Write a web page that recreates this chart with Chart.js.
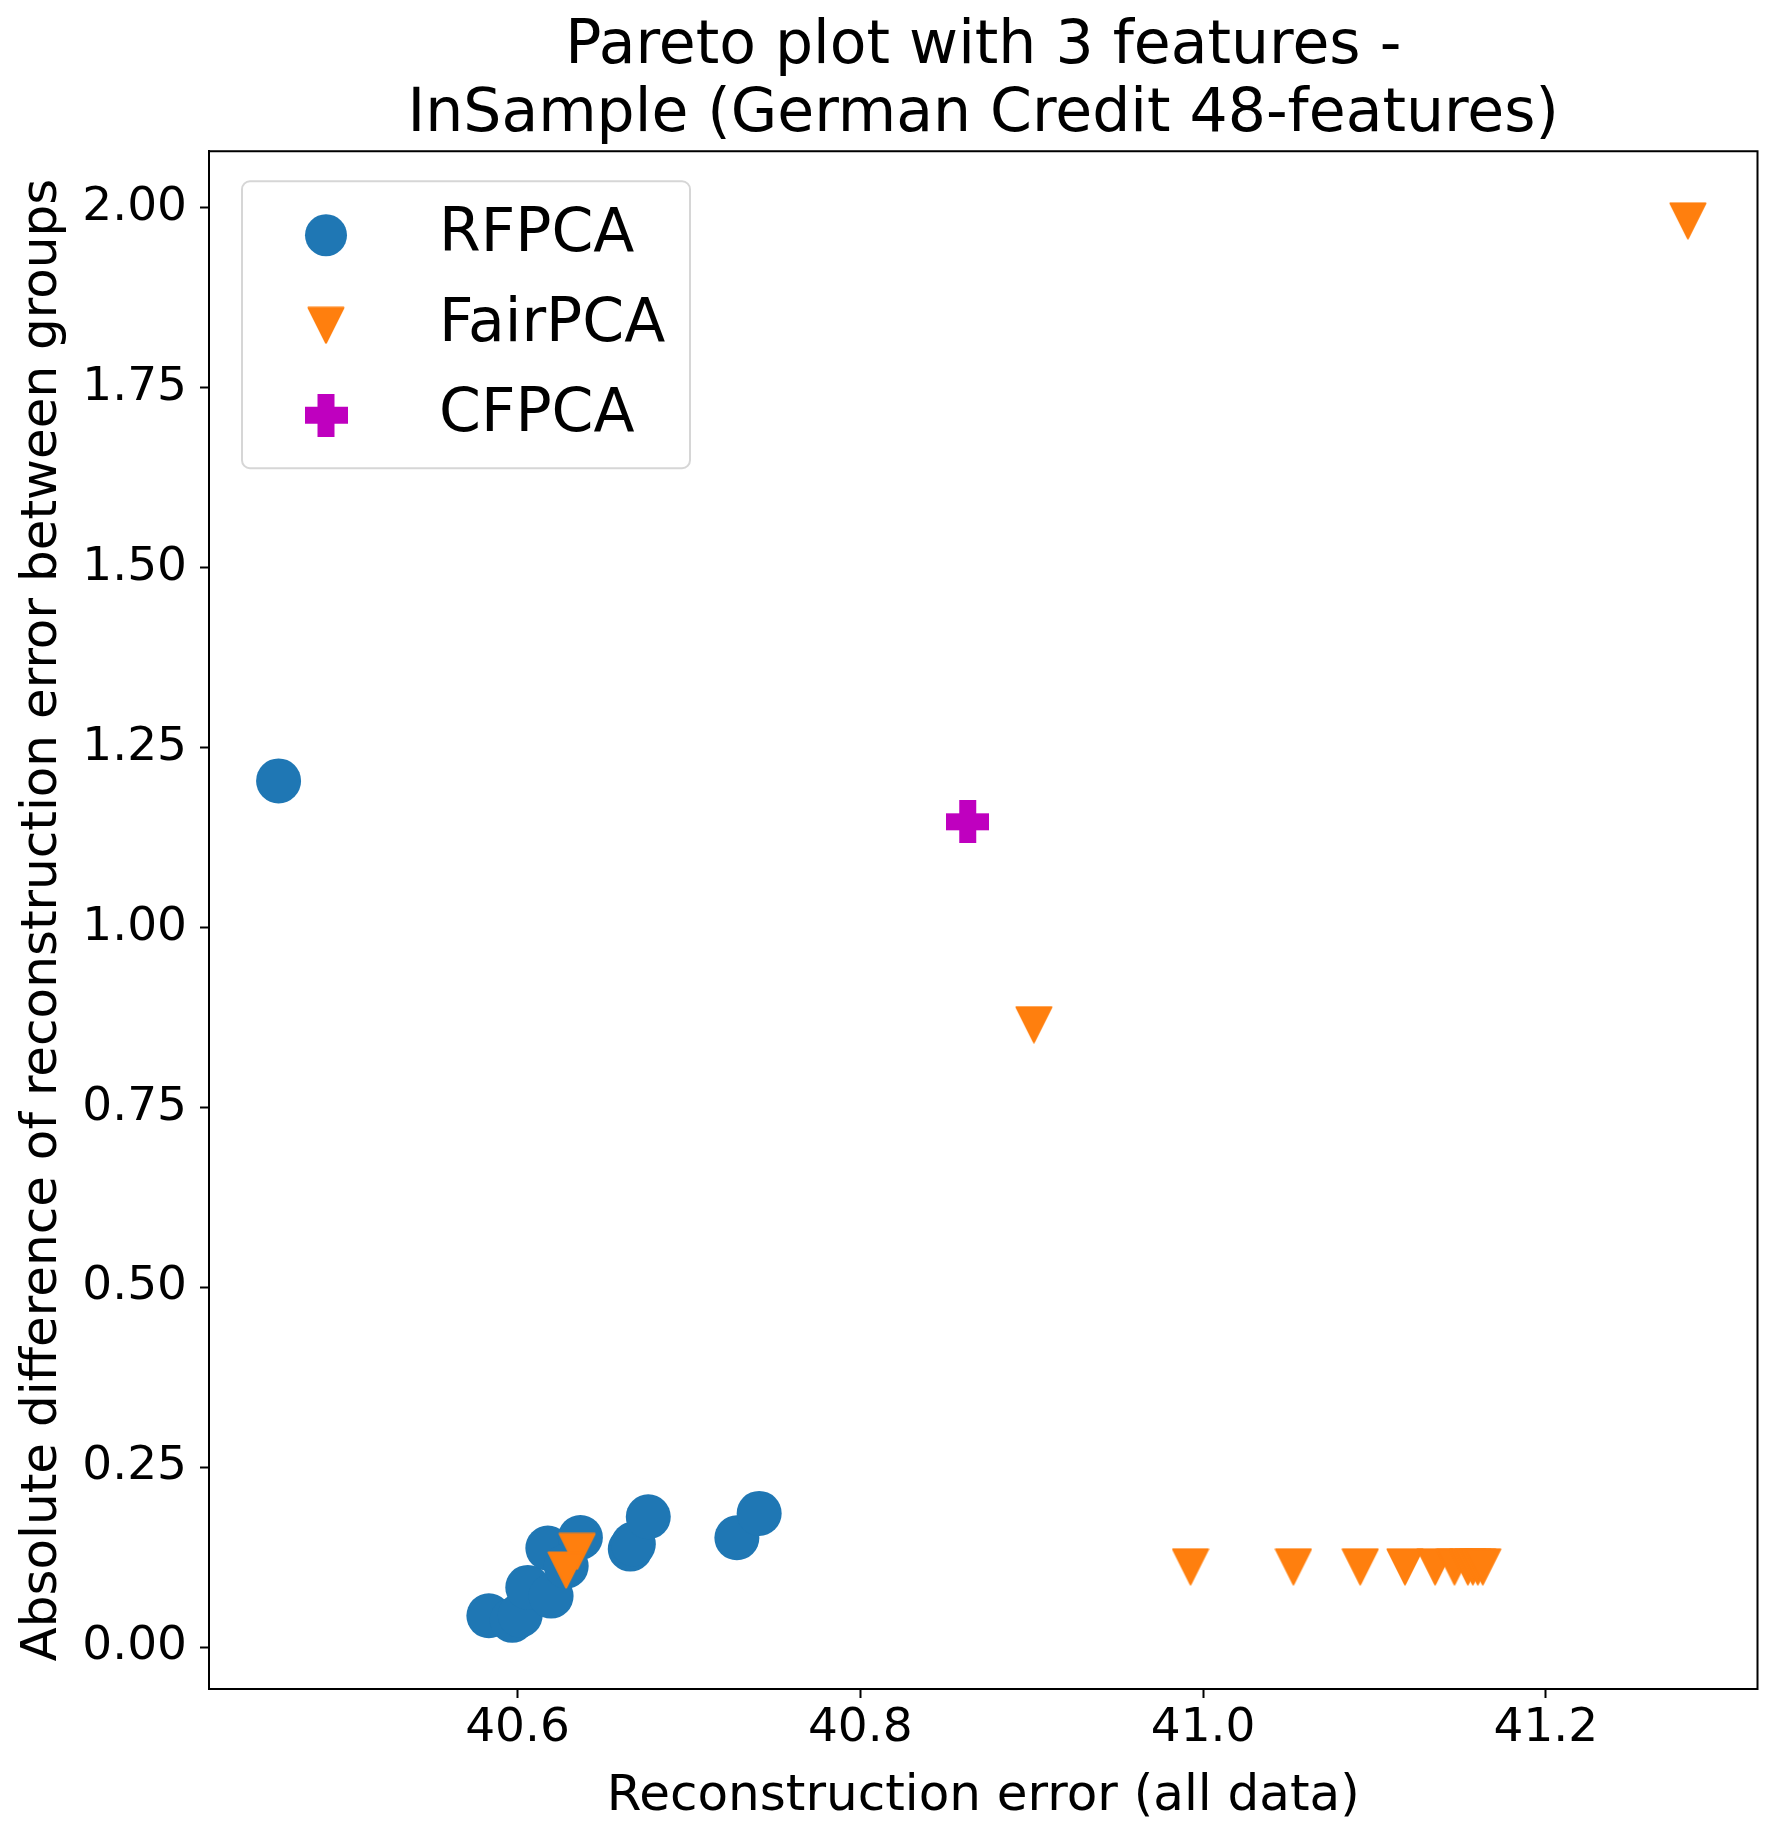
<!DOCTYPE html>
<html>
<head>
<meta charset="utf-8">
<script src="https://cdn.jsdelivr.net/npm/chart.js@4.4.1/dist/chart.umd.min.js"></script>
<style>
  html, body { margin: 0; padding: 0; background: #fff; }
  #wrap { width: 1780px; height: 1837px; position: relative; }
</style>
</head>
<body>
<div id="wrap"><canvas id="pareto"></canvas></div>
<script>
// Données
const seriesNames = ['RFPCA', 'FairPCA', 'CFPCA'];

const rfpcaX = [40.4606, 40.5833, 40.5969, 40.6016, 40.606, 40.6196, 40.6177, 40.6367, 40.6284, 40.6658, 40.6676, 40.6763, 40.728, 40.741];
const rfpcaY = [1.2036, 0.0435, 0.0371, 0.0444, 0.0829, 0.0708, 0.1375, 0.1523, 0.1125, 0.1361, 0.1431, 0.181, 0.1518, 0.1857];

const fairX = [41.2829, 40.9013, 40.6348, 40.6284, 40.9927, 41.0527, 41.0917, 41.1178, 41.1354, 41.1467, 41.1545, 41.1574, 41.1603, 41.1632];
const fairY = [1.982, 0.865, 0.133, 0.107, 0.1116, 0.1116, 0.1116, 0.1116, 0.1116, 0.1116, 0.1116, 0.1116, 0.1116, 0.1116];

const cfpcaX = [40.8627];
const cfpcaY = [1.1468];

const xTicks = [40.6, 40.8, 41.0, 41.2];
const yTicks = [0, 0.25, 0.5, 0.75, 1.0, 1.25, 1.5, 1.75, 2.0];

const FONT = "'DejaVu Sans', sans-serif";

// Marqueurs façon matplotlib ('v' et 'P')
function makeTriangleDown(size, color) {
  const c = document.createElement('canvas');
  c.width = size; c.height = size;
  const g = c.getContext('2d');
  g.fillStyle = color;
  g.strokeStyle = color;
  g.lineWidth = 2;
  g.lineJoin = 'round';
  g.beginPath();
  g.moveTo(1.5, 1.5);
  g.lineTo(size - 1.5, 1.5);
  g.lineTo(size / 2, size - 1.5);
  g.closePath();
  g.fill();
  g.stroke();
  return c;
}

function makePlus(size, arm, color) {
  const c = document.createElement('canvas');
  c.width = size; c.height = size;
  const g = c.getContext('2d');
  g.fillStyle = color;
  const o = (size - arm) / 2;
  g.fillRect(o, 0, arm, size);
  g.fillRect(0, o, size, arm);
  return c;
}

const triMarker = makeTriangleDown(38, '#ff7f0e');
const plusMarker = makePlus(43, 17, '#bf00bf');

function toPoints(xs, ys) {
  return xs.map((x, i) => ({ x: x, y: ys[i] }));
}

// Cadre complet autour de la zone de tracé
const frame = {
  id: 'frame',
  afterDatasetsDraw(chart) {
    const { ctx, chartArea: a } = chart;
    ctx.save();
    ctx.strokeStyle = '#000';
    ctx.lineWidth = 2;
    ctx.strokeRect(a.left, a.top, a.right - a.left, a.bottom - a.top);
    ctx.restore();
  }
};

// Légende dans le coin supérieur gauche
const legendBox = {
  id: 'legendBox',
  afterDraw(chart) {
    const { ctx, chartArea: a } = chart;
    const x = a.left + 33, y = a.top + 30, w = 448, h = 287;
    ctx.save();
    ctx.beginPath();
    ctx.roundRect(x, y, w, h, 8);
    ctx.fillStyle = 'rgba(255,255,255,0.8)';
    ctx.fill();
    ctx.strokeStyle = '#d6d6d6';
    ctx.lineWidth = 2;
    ctx.stroke();

    chart.data.datasets.forEach((ds, i) => {
      const rowY = y + 54 + i * 90;
      const mx = x + 84;
      if (ds.pointStyle === 'circle') {
        ctx.beginPath();
        ctx.arc(mx, rowY, 21, 0, Math.PI * 2);
        ctx.fillStyle = ds.backgroundColor;
        ctx.fill();
      } else {
        const img = ds.pointStyle;
        ctx.drawImage(img, mx - img.width / 2, rowY - img.height / 2);
      }
      ctx.fillStyle = '#000';
      ctx.font = '60px ' + FONT;
      ctx.textAlign = 'left';
      ctx.textBaseline = 'middle';
      ctx.fillText(ds.label, x + 197, rowY);
    });
    ctx.restore();
  }
};

const data = {
  datasets: [
    {
      label: seriesNames[0],
      data: toPoints(rfpcaX, rfpcaY),
      pointStyle: 'circle',
      pointRadius: 22.5,
      pointHoverRadius: 22.5,
      borderWidth: 0,
      backgroundColor: '#1f77b4',
      borderColor: '#1f77b4',
      order: 3
    },
    {
      label: seriesNames[1],
      data: toPoints(fairX, fairY),
      pointStyle: triMarker,
      backgroundColor: '#ff7f0e',
      borderColor: '#ff7f0e',
      order: 2
    },
    {
      label: seriesNames[2],
      data: toPoints(cfpcaX, cfpcaY),
      pointStyle: plusMarker,
      backgroundColor: '#bf00bf',
      borderColor: '#bf00bf',
      order: 1
    }
  ]
};

const config = {
  type: 'scatter',
  data: data,
  options: {
    responsive: true,
    maintainAspectRatio: false,
    animation: false,
    layout: { padding: { left: 0, right: 20, top: 0, bottom: 0 } },
    plugins: {
      legend: { display: false },
      tooltip: { enabled: false },
      title: {
        display: true,
        fullSize: false,
        text: ['Pareto plot with 3 features -', 'InSample (German Credit 48-features)'],
        color: '#000',
        font: { family: FONT, size: 60, weight: 'normal', lineHeight: 1.127 },
        padding: { top: 14, bottom: 2 }
      }
    },
    scales: {
      x: {
        type: 'linear',
        min: 40.42,
        max: 41.3235,
        afterBuildTicks: (s) => { s.ticks = xTicks.map(v => ({ value: v })); },
        afterFit: (s) => { s.height = 148; },
        ticks: {
          color: '#000',
          padding: 3,
          font: { family: FONT, size: 47 },
          callback: (v) => Number(v).toFixed(1)
        },
        grid: {
          drawOnChartArea: false,
          drawTicks: true,
          tickLength: 9,
          tickWidth: 2,
          tickColor: '#000'
        },
        border: { display: true, color: '#000', width: 2 },
        title: {
          display: true,
          text: 'Reconstruction error (all data)',
          color: '#000',
          font: { family: FONT, size: 50, lineHeight: 1.2 },
          padding: { top: 0, bottom: 10 }
        }
      },
      y: {
        type: 'linear',
        min: -0.0583,
        max: 2.0786,
        afterBuildTicks: (s) => { s.ticks = yTicks.map(v => ({ value: v })); },
        afterFit: (s) => { s.width = 209; },
        ticks: {
          color: '#000',
          padding: 13,
          font: { family: FONT, size: 47 },
          callback: (v) => Number(v).toFixed(2)
        },
        grid: {
          drawOnChartArea: false,
          drawTicks: true,
          tickLength: 9,
          tickWidth: 2,
          tickColor: '#000'
        },
        border: { display: true, color: '#000', width: 2 },
        title: {
          display: true,
          text: 'Absolute difference of reconstruction error between groups',
          color: '#000',
          font: { family: FONT, size: 50, lineHeight: 1.2 },
          padding: { top: 13, bottom: 0 }
        }
      }
    }
  },
  plugins: [frame, legendBox]
};

new Chart(document.getElementById('pareto'), config);
</script>
</body>
</html>
